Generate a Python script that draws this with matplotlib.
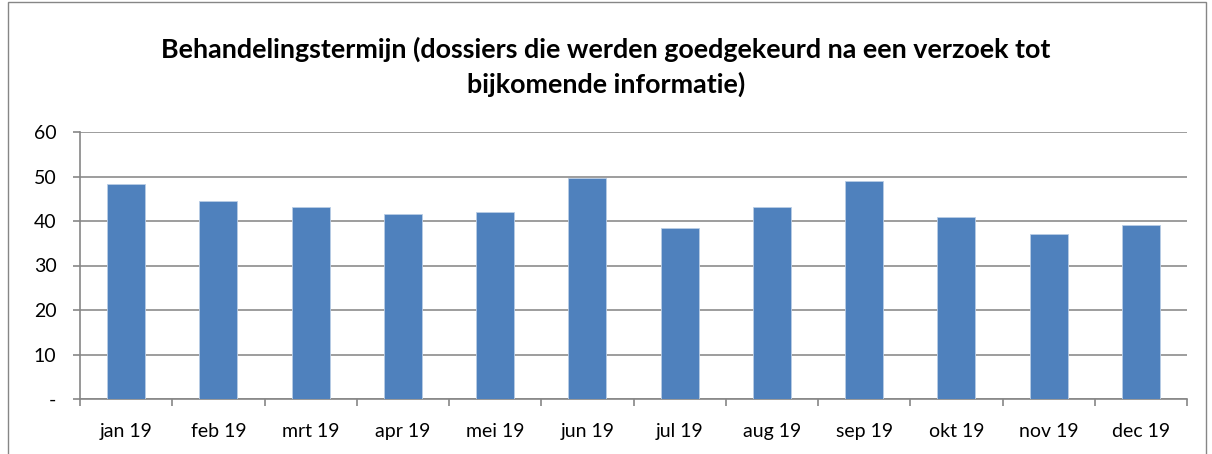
import matplotlib.pyplot as plt
from matplotlib.patches import Rectangle
from matplotlib.ticker import FuncFormatter

months = ["jan 19", "feb 19", "mrt 19", "apr 19", "mei 19", "jun 19",
          "jul 19", "aug 19", "sep 19", "okt 19", "nov 19", "dec 19"]
termijn = [48.4, 44.4, 43.1, 41.5, 42.0, 49.6, 38.4, 43.1, 49.1, 40.8, 37.0, 39.0]
yticks = [0, 10, 20, 30, 40, 50, 60]
title = "Behandelingstermijn (dossiers die werden goedgekeurd na een verzoek tot\nbijkomende informatie)"

plt.rcParams['font.family'] = ['Lato', 'DejaVu Sans']

fig = plt.figure(figsize=(12.12, 4.54), dpi=100)
# chart border like the excel frame
fig.patches.append(Rectangle((8/1212, -0.05), 1198/1212, 1.05 - 2/454, transform=fig.transFigure,
                             fill=False, edgecolor='#868686', linewidth=1))
ax = fig.add_axes([80/1212, 55/454, 1107/1212, 267/454])

x = list(range(len(months)))
ax.bar(x, termijn, width=0.41, color='#4F81BD', edgecolor='#B9CDE5', linewidth=0.6, zorder=3)

ax.set_xlim(-0.5, len(months) - 0.5)
ax.set_ylim(0, 60)
ax.set_yticks(yticks)
ax.yaxis.set_major_formatter(FuncFormatter(lambda v, p: '-' if v == 0 else '%d' % v))
ax.set_xticks(x)
ax.set_xticklabels(months)
ax.set_xticks([i - 0.5 for i in range(len(months) + 1)], minor=True)
ax.tick_params(axis='x', which='major', length=0, pad=17, labelsize=14)
ax.tick_params(axis='x', which='minor', length=5, color='#868686', width=1.2)
ax.tick_params(axis='y', length=5, color='#868686', width=1.2, pad=12, labelsize=14)
ax.grid(axis='y', color='#8C8C8C', linewidth=1.2, zorder=0)
for s in ['top', 'right']:
    ax.spines[s].set_visible(False)
for s in ['left', 'bottom']:
    ax.spines[s].set_color('#868686')
    ax.spines[s].set_linewidth(1.2)

fig.text(0.5, 1 - 67/454, title, ha='center', va='center', fontsize=19.4, fontweight='bold',
         linespacing=1.45)

fig.savefig('out.png', dpi=100)
